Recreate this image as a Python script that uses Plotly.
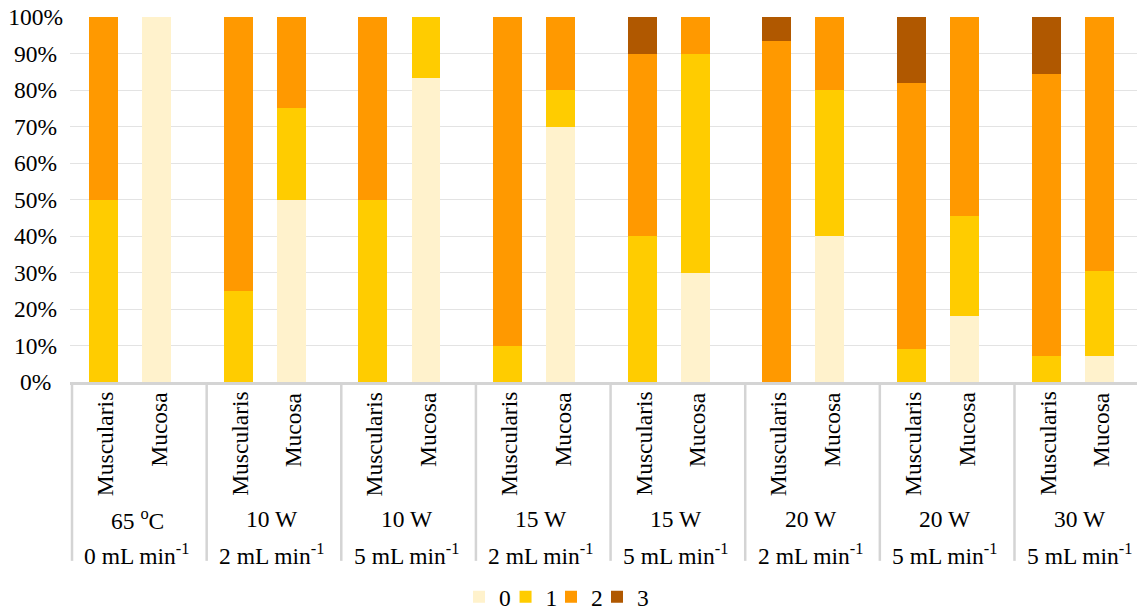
import plotly.graph_objects as go

# ---- data ----
conditions = ["65 <sup>o</sup>C", "10 W", "10 W", "15 W", "15 W", "20 W", "20 W", "30 W"]
flows = ["0 mL min<sup>-1</sup>", "2 mL min<sup>-1</sup>", "5 mL min<sup>-1</sup>", "2 mL min<sup>-1</sup>",
         "5 mL min<sup>-1</sup>", "2 mL min<sup>-1</sup>", "5 mL min<sup>-1</sup>", "5 mL min<sup>-1</sup>"]
tissues = ["Muscularis", "Mucosa"]
scores = ["0", "1", "2", "3"]

# percentages, order: for each condition -> Muscularis, Mucosa
score0 = [0, 100, 0, 50, 0, 83.3, 0, 70, 0, 30, 0, 40, 0, 18.2, 0, 7.1]
score1 = [50, 0, 25, 25, 50, 16.7, 10, 10, 40, 60, 0, 40, 9.1, 27.3, 7.1, 23.2]
score2 = [50, 0, 75, 25, 50, 0, 90, 20, 50, 10, 93.3, 20, 72.7, 54.5, 77.4, 69.7]
score3 = [0, 0, 0, 0, 0, 0, 0, 0, 10, 0, 6.7, 0, 18.2, 0, 15.5, 0]
series = [score0, score1, score2, score3]

y_ticks = [0, 10, 20, 30, 40, 50, 60, 70, 80, 90, 100]
y_ticktext = ["0%\u00a0\u00a0", "10%\u00a0", "20%\u00a0", "30%\u00a0", "40%\u00a0", "50%\u00a0",
              "60%\u00a0", "70%\u00a0", "80%\u00a0", "90%\u00a0", "100%"]

# ---- styles ----
colors = ["#FFF2CC", "#FFCC00", "#FF9900", "#B05800"]
FONT = "Times New Roman, Liberation Serif, serif"
FS = 23.5
BAR_W = 0.43
MUCOSA_SHIFT = -0.212          # mucosa bars sit a bit left of their slot centre
SLOT_PX = 67.32
legend_x = [0.3646, 0.4082, 0.4508, 0.4939]
legend_ids = ["legend", "legend2", "legend3", "legend4"]

categories = []
for g in range(len(conditions)):
    for t in tissues:
        categories.append(f"{g}|{t}")

offsets = []
for g in range(len(conditions)):
    offsets.append(-BAR_W / 2)
    offsets.append(-BAR_W / 2 + MUCOSA_SHIFT)

fig = go.Figure()
for name, vals, col, lid in zip(scores, series, colors, legend_ids):
    fig.add_trace(go.Bar(
        x=categories, y=vals, name=name, legend=lid, showlegend=True,
        marker=dict(color=col, line=dict(width=0)),
        width=BAR_W, offset=offsets,
        hoverinfo="x+y+name",
    ))

annotations = []
shapes = []
txtfont = dict(family=FONT, size=FS, color="#000000")
for g in range(len(conditions)):
    for j, t in enumerate(tissues):
        annotations.append(dict(
            x=f"{g}|{t}", xref="x", y=0, yref="paper", yanchor="top", xanchor="center",
            yshift=-8, xshift=(MUCOSA_SHIFT * SLOT_PX if j == 1 else 0) + 1.5,
            text=t, textangle=-90, showarrow=False, font=txtfont,
        ))
    annotations.append(dict(
        x=2 * g + 0.5, xref="x", y=0, yref="paper", yanchor="middle", xanchor="center",
        yshift=-137, text=conditions[g], showarrow=False, font=txtfont,
    ))
    annotations.append(dict(
        x=2 * g + 0.5, xref="x", y=0, yref="paper", yanchor="middle", xanchor="center",
        yshift=-172, text=flows[g], showarrow=False, font=txtfont,
    ))

for g in range(len(conditions) + 1):
    shapes.append(dict(
        type="line", xref="x", yref="paper",
        x0=2 * g - 0.5 + 0.03, x1=2 * g - 0.5 + 0.03, y0=0, y1=-0.49,
        line=dict(color="#D4D4D4", width=2.5),
    ))

legend_common = dict(
    orientation="h", xanchor="left", y=-0.589, yanchor="middle",
    font=txtfont, itemwidth=30, bgcolor="rgba(0,0,0,0)",
)

fig.update_layout(
    barmode="stack",
    showlegend=True,
    width=1137, height=611,
    margin=dict(l=70, r=0, t=17, b=229, autoexpand=False),
    plot_bgcolor="white", paper_bgcolor="white",
    font=txtfont,
    xaxis=dict(
        type="category", categoryorder="array", categoryarray=categories,
        range=[-0.5, 15.35], showticklabels=False, ticks="",
        showgrid=False, showline=True, linecolor="#D4D4D4", linewidth=2.5,
        zeroline=False, fixedrange=True,
    ),
    yaxis=dict(
        range=[0, 100], tickmode="array", tickvals=y_ticks, ticktext=y_ticktext,
        showgrid=True, gridcolor="#E3E3E3", gridwidth=1, zeroline=False,
        showline=False, ticks="", ticklabelstandoff=6,
        tickfont=txtfont, fixedrange=True,
    ),
    legend=dict(x=legend_x[0], **legend_common),
    legend2=dict(x=legend_x[1], **legend_common),
    legend3=dict(x=legend_x[2], **legend_common),
    legend4=dict(x=legend_x[3], **legend_common),
    annotations=annotations,
    shapes=shapes,
    bargap=0,
)

fig.write_html("out.html", config={"displayModeBar": False},
               post_script="document.body.style.margin='0';")
